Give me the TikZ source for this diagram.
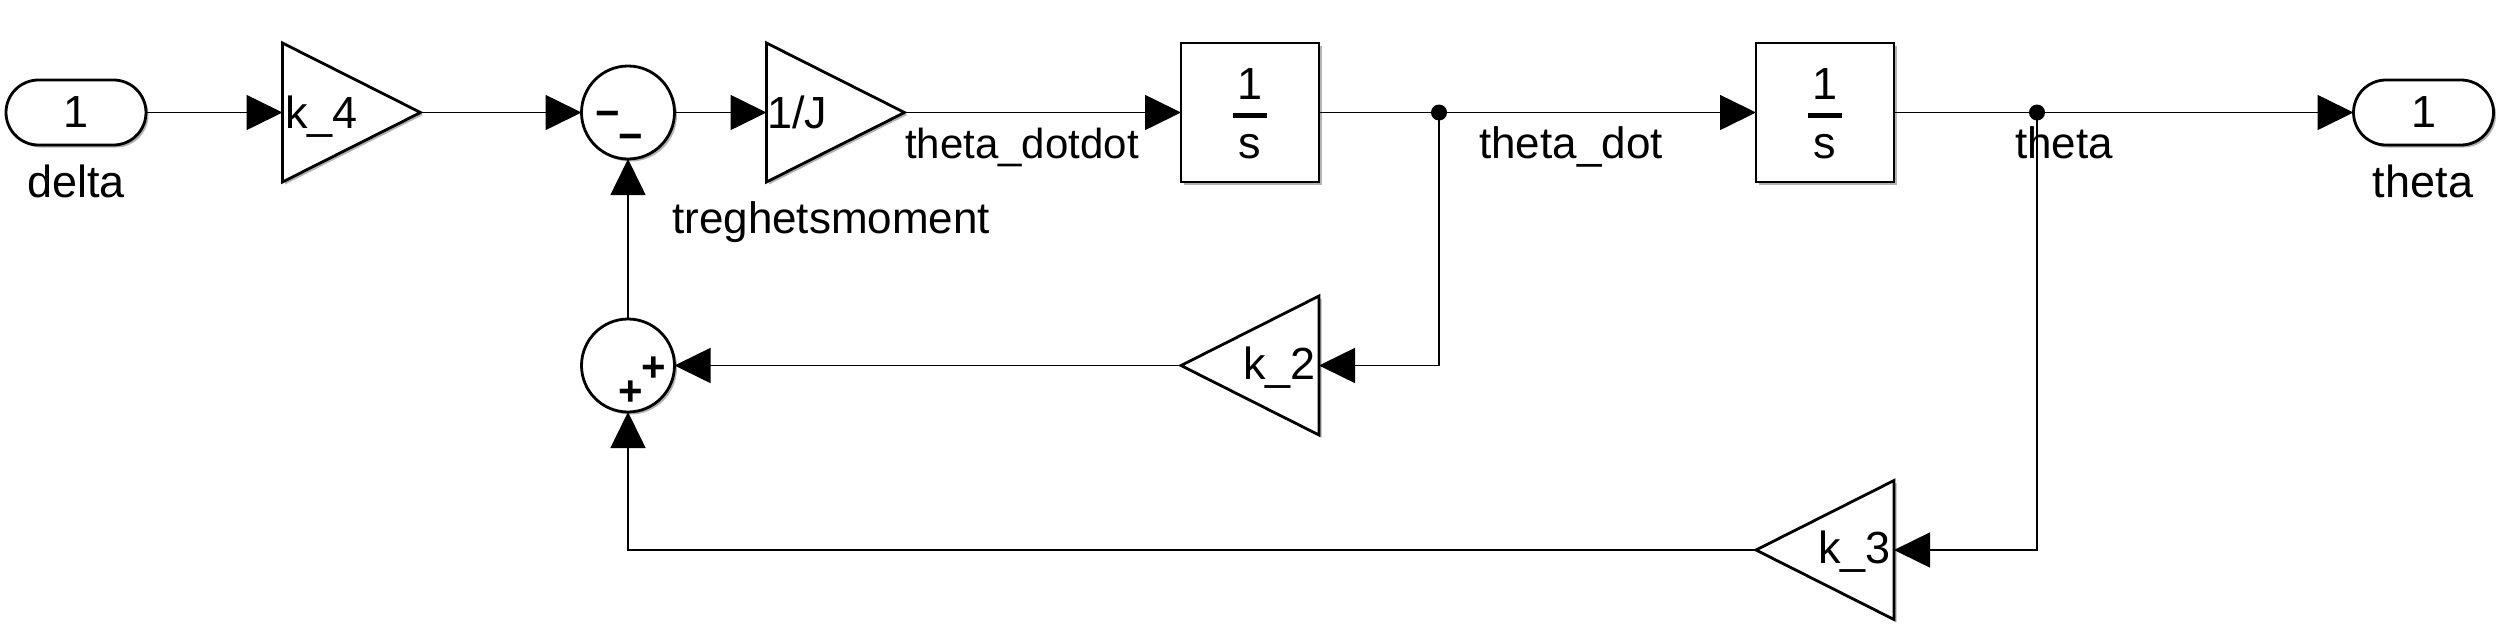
\documentclass[tikz,border=0pt]{standalone}
\usepackage{fontspec}
\setmainfont{Liberation Sans}
\usetikzlibrary{arrows.meta,shapes.misc,shadows,calc}
\begin{document}
\begin{tikzpicture}[x=1pt,y=-1pt,
  sig/.style={line width=1.6pt, -{Triangle[length=36pt,width=35pt]}},
  wire/.style={line width=1.6pt},
  shad/.style={drop shadow={shadow xshift=2.5pt, shadow yshift=-2.5pt, opacity=0.3, fill=black}},
  blk/.style={draw, line width=2.8pt, fill=white, shad},
  port/.style={blk, rounded rectangle, minimum width=140pt, minimum height=65pt, inner sep=0pt, outer sep=0pt, font=\fontsize{45}{52}\selectfont},
  sumblk/.style={blk, circle, minimum size=93pt, inner sep=0pt, outer sep=0pt},
  intblk/.style={blk, rectangle, minimum width=138pt, minimum height=139pt, inner sep=0pt, outer sep=0pt},
  gainbox/.style={rectangle, minimum width=138pt, minimum height=139pt, inner sep=0pt, outer sep=0pt},
  gaintri/.style={draw, line width=2.8pt, fill=white, line join=miter, shad},
  txt/.style={font=\fontsize{45}{52}\selectfont, inner sep=0pt},
  lbl/.style={font=\fontsize{44}{50}\selectfont, inner sep=0pt},
  lblsmall/.style={font=\fontsize{42}{50}\selectfont, inner sep=0pt},
  sgn/.style={font=\bfseries\fontsize{42}{50}\selectfont, inner sep=0pt},
  dotnode/.style={circle, fill=black, minimum size=16pt, inner sep=0pt, outer sep=0pt},
]
\useasboundingbox (0,0) rectangle (2503,633);

% ports
\node[port] (in) at (76,112.5) {1};
\node[txt, anchor=base] (inlbl) at (76,197) {delta};
\node[port] (out) at (2423.5,112.5) {1};
\node[txt, anchor=base] (outlbl) at (2423,197) {theta};

% gains
\node[gainbox] (k4) at (351.5,112.5) {};
\draw[gaintri] (k4.north west) -- (k4.south west) -- (k4.east) -- cycle;
\node[txt, anchor=base west] (k4t) at (285,128) {k\_4};

\node[gainbox] (J) at (835.5,112.5) {};
\draw[gaintri] (J.north west) -- (J.south west) -- (J.east) -- cycle;
\node[txt, anchor=base west] (Jt) at (767,128) {1/J};

\node[gainbox] (k2) at (1250,365.5) {};
\draw[gaintri] (k2.north east) -- (k2.south east) -- (k2.west) -- cycle;
\node[txt, anchor=base east] (k2t) at (1316,379) {k\_2};

\node[gainbox] (k3) at (1825,550) {};
\draw[gaintri] (k3.north east) -- (k3.south east) -- (k3.west) -- cycle;
\node[txt, anchor=base east] (k3t) at (1891,563) {k\_3};

% sums
\node[sumblk] (s1) at (628,112.5) {};
\node[sgn, anchor=base] (s1a) at (608,127) {−};
\node[sgn, anchor=base] (s1b) at (631,150) {−};
\node[sumblk] (s2) at (628,365.5) {};
\node[sgn, anchor=base] (s2a) at (654,381) {+};
\node[sgn, anchor=base] (s2b) at (631,405) {+};

% integrators
\node[intblk] (i1) at (1250,112.5) {};
\node[txt, anchor=base] (i1n) at (1250,99) {1};
\node[txt, anchor=base] (i1d) at (1250,158) {s};
\draw[line width=5pt] ($(i1.center)+(-17,2.5)$) -- ($(i1.center)+(17,2.5)$);
\node[intblk] (i2) at (1825,112.5) {};
\node[txt, anchor=base] (i2n) at (1825,99) {1};
\node[txt, anchor=base] (i2d) at (1825,158) {s};
\draw[line width=5pt] ($(i2.center)+(-17,2.5)$) -- ($(i2.center)+(17,2.5)$);

% branch points
\node[dotnode] (b1) at (1439,112.5) {};
\node[dotnode] (b2) at (2037,112.5) {};

% connectors
\draw[sig] (in.east) -- (k4.west);
\draw[sig] (k4.east) -- (s1.west);
\draw[sig] (s1.east) -- (J.west);
\draw[sig] (J.east) -- (i1.west);
\draw[wire] (i1.east) -- (b1.center);
\draw[sig] (b1.center) -- (i2.west);
\draw[sig] (b1.center) |- (k2.east);
\draw[sig] (k2.west) -- (s2.east);
\draw[sig] (s2.north) -- (s1.south);
\draw[wire] (i2.east) -- (b2.center);
\draw[sig] (b2.center) -- (out.west);
\draw[sig] (b2.center) |- (k3.east);
\draw[sig] (k3.west) -| (s2.south);

% signal labels
\node[lblsmall, anchor=base west] (l1) at (905,158) {theta\_dotdot};
\node[lbl, anchor=base west] (l2) at (1479,158) {theta\_dot};
\node[lbl, anchor=base west] (l3) at (2015,158) {theta};
\node[lbl, anchor=base west] (l4) at (672,233) {treghetsmoment};
\end{tikzpicture}
\end{document}
